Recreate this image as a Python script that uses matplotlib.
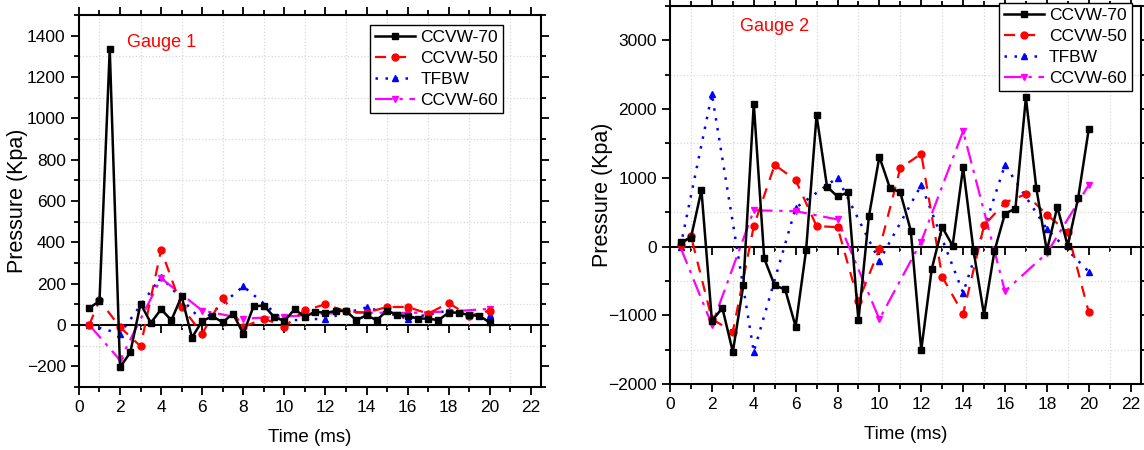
import numpy as np
import matplotlib
matplotlib.use('Agg')
import matplotlib.pyplot as plt
from matplotlib.ticker import MultipleLocator

plt.rcParams['font.family'] = ['Liberation Sans', 'DejaVu Sans']

# ---------------- Gauge 1 ----------------
g1_t70 = [0.5, 1, 1.5, 2, 2.5, 3, 3.5, 4, 4.5, 5, 5.5, 6, 6.5, 7, 7.5, 8, 8.5, 9, 9.5, 10,
          10.5, 11, 11.5, 12, 12.5, 13, 13.5, 14, 14.5, 15, 15.5, 16, 16.5, 17, 17.5, 18,
          18.5, 19, 19.5, 20]
g1_ccvw70 = [82, 115, 1335, -205, -133, 103, 10, 76, 23, 139, -61, 19, 42, 13, 55, -42,
             90, 94, 39, 19, 76, 39, 65, 58, 68, 68, 23, 47, 23, 70, 47, 44, 31, 31, 23,
             60, 60, 47, 44, 12]
g1_t50 = [0.5, 1, 2, 3, 4, 5, 6, 7, 8, 9, 10, 11, 12, 13, 14, 15, 16, 17, 18, 19, 20]
g1_ccvw50 = [0, 119, -10, -103, 364, 87, -42, 132, -10, 31, -8, 71, 100, 66, 60, 87, 87,
             55, 106, 44, 70]
g1_t2 = [0.5, 2, 4, 6, 8, 10, 12, 14, 16, 18, 20]
g1_tfbw = [0, -42, 232, 19, 187, 21, 31, 85, 31, 70, 47]
g1_ccvw60 = [0, -170, 226, 70, 31, 40, 55, 60, 58, 65, 78]

# ---------------- Gauge 2 ----------------
g2_t70 = g1_t70
g2_ccvw70 = [62, 130, 820, -1080, -895, -1532, -566, 2080, -174, -566, -625, -1165, -51,
             1910, 870, 728, 787, -1076, 438, 1306, 856, 787, 233, -1507, -331, 282, 12,
             1150, -62, -993, -62, 478, 551, 2169, 845, -62, 576, 12, 713, 1703]
g2_t50 = g1_t50
g2_ccvw50 = [20, 150, -1056, -1238, 297, 1188, 968, 297, 282, -797, -37, 1140, 1350, -438,
             -982, 306, 640, 762, 463, 209, -953]
g2_t2 = g1_t2
g2_tfbw = [0, 2218, -1532, 562, 1003, -208, 894, -673, 1188, 257, -365]
g2_ccvw60 = [-12, -1140, 527, 515, 394, -1056, 71, 1679, -650, -96, 894]

labels = ['CCVW-70', 'CCVW-50', 'TFBW', 'CCVW-60']


def draw_gauge(ax, t70, y70, t50, y50, t2, ytf, y60, ylim, ymajor, title, title_xy,
               leg_anchor, ylab_x):
    ax.plot(t70, y70, color='black', ls='-', lw=1.8, marker='s', ms=4, label=labels[0], zorder=5)
    ax.plot(t50, y50, color='red', ls=(0, (5, 4)), lw=1.6, marker='o', ms=5, label=labels[1], zorder=4)
    ax.plot(t2, ytf, color='blue', ls=(0, (1, 3)), lw=1.8, marker='^', ms=5, label=labels[2], zorder=3)
    ax.plot(t2, y60, color='magenta', ls=(0, (8, 3, 1.5, 3)), lw=1.6, marker='v', ms=5, label=labels[3], zorder=3)

    ax.set_xlim(0, 22.5)
    ax.set_ylim(*ylim)
    ax.xaxis.set_major_locator(MultipleLocator(2))
    ax.xaxis.set_minor_locator(MultipleLocator(1))
    ax.yaxis.set_major_locator(MultipleLocator(ymajor))
    ax.yaxis.set_minor_locator(MultipleLocator(ymajor / 2))
    ax.grid(which='minor', color='#d8d8d8', ls=':', lw=0.9)
    ax.set_axisbelow(True)
    ax.tick_params(which='both', direction='out', top=True, right=True, width=1.3, labelsize=12.5)
    ax.tick_params(which='major', length=6)
    ax.tick_params(which='minor', length=3.5)
    for s in ax.spines.values():
        s.set_linewidth(1.5)

    # zero axis line with ticks (Origin style)
    loc = (0 - ylim[0]) / (ylim[1] - ylim[0])
    sec = ax.secondary_xaxis(loc)
    sec.xaxis.set_major_locator(MultipleLocator(2))
    sec.xaxis.set_minor_locator(MultipleLocator(1))
    sec.tick_params(axis='x', which='both', direction='out', width=1.3,
                    labelbottom=False, labeltop=False)
    sec.tick_params(axis='x', which='major', length=6)
    sec.tick_params(axis='x', which='minor', length=3.5)
    sec.spines['bottom'].set_linewidth(1.5)

    ax.set_xlabel('Time (ms)', fontsize=13.5, labelpad=10)
    ax.set_ylabel('Pressure (Kpa)', fontsize=15.5, va='center')
    ax.yaxis.set_label_coords(ylab_x, 0.5)
    ax.text(title_xy[0], title_xy[1], title, color='red', fontsize=13, transform=ax.transAxes,
            ha='left', va='center')
    leg = ax.legend(loc='upper right', bbox_to_anchor=leg_anchor, fontsize=12.5, frameon=True,
                    fancybox=False, edgecolor='black', framealpha=1, handlelength=2.3,
                    labelspacing=0.33, borderpad=0.3, handletextpad=0.3, borderaxespad=0)
    leg.get_frame().set_linewidth(1.0)


fig = plt.figure(figsize=(11.44, 4.5), dpi=100)
ax1 = fig.add_axes([0.069, 0.14, 0.404, 0.827])
ax2 = fig.add_axes([0.5857, 0.1467, 0.4117, 0.84])

draw_gauge(ax1, g1_t70, g1_ccvw70, g1_t50, g1_ccvw50, g1_t2, g1_tfbw, g1_ccvw60,
           (-300, 1500), 200, 'Gauge 1', (0.105, 0.925), (0.918, 0.973), -0.132)
draw_gauge(ax2, g2_t70, g2_ccvw70, g2_t50, g2_ccvw50, g2_t2, g2_tfbw, g2_ccvw60,
           (-2000, 3500), 1000, 'Gauge 2', (0.148, 0.945), (0.981, 1.008), -0.144)

fig.savefig('out.png', dpi=100)
